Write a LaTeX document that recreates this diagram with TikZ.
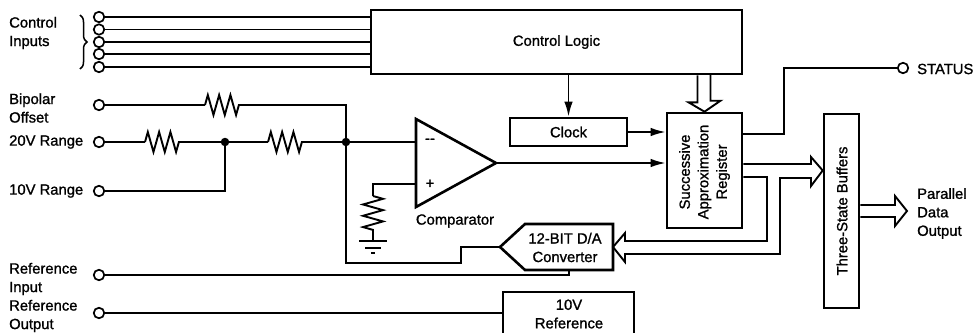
\documentclass[tikz,border=0pt]{standalone}
\usepackage{fontspec}
\newfontfamily\lblfont[FakeBold=1.2]{Liberation Sans}
\usetikzlibrary{arrows.meta,calc,decorations.pathmorphing,decorations.pathreplacing}
\tikzset{
  wire/.style={line width=1.9pt},
  boxed/.style={draw, line width=2.6pt, align=center, inner sep=0pt, font=\lblfont\fontsize{14.8}{18.5}\selectfont},
  term/.style={draw, circle, fill=white, line width=1.7pt, minimum size=10.5pt, inner sep=0pt},
  lbl/.style={anchor=west, inner sep=0pt, font=\lblfont\fontsize{14.8}{18.5}\selectfont, align=left},
  txt/.style={inner sep=0pt, font=\lblfont\fontsize{14.8}{18.5}\selectfont, align=center},
  res/.style={wire, decorate, decoration={zigzag, segment length=11.3pt, amplitude=10pt}},
  dot/.style={circle, fill=black, minimum size=8.5pt, inner sep=0pt},
  tip/.style={-{Latex[length=15pt,width=8.5pt]}}
}
\begin{document}
\begin{tikzpicture}[x=1pt,y=-1pt]
\useasboundingbox (0,0) rectangle (979,332);
% blocks
\node[boxed, minimum width=371pt, minimum height=64pt] (ctrl) at (556.5,42) {Control Logic};
\node[boxed, minimum width=117pt, minimum height=28pt] (clock) at (568.5,132) {Clock};
\node[boxed, minimum width=75pt, minimum height=115pt] (sar) at (704.5,170.5) {};
\node[txt, rotate=90] (sartxt) at (704.5,172) {Successive\\Approximation\\Register};
\node[boxed, minimum width=35pt, minimum height=194pt] (tsb) at (841.5,211) {};
\node[txt, rotate=90] (tsbtxt) at (842,211) {Three-State Buffers};
\node[boxed, minimum width=131pt, minimum height=44pt] (vref) at (568.5,314) {};
\node[txt] (vreftxt) at (569,314) {10V\\Reference};
\node[txt] (dactxt) at (565,247.5) {12-BIT D/A\\Converter};
\coordinate (dacout) at (500,247);
\coordinate (dacin) at (613,247);
\draw[wire, line width=2.6pt] (dacout) -- (525,224) -- (613,224) -- (613,270) -- (525,270) -- cycle;
% comparator
\coordinate (cmpout) at (496,163);
\coordinate (cmpm) at (416,142);
\coordinate (cmpp) at (416,184);
\draw[wire, line width=2.6pt] (416,119) -- (cmpout) -- (416,207) -- cycle;
\node[txt] (minus) at (430,141) {--};
\node[txt] (plus) at (430,184) {+};
\node[txt] (cmptxt) at (455,221) {Comparator};
% control inputs
\foreach \y [count=\i] in {17,29.5,42,54,67}{
  \node[term] (c\i) at (99,\y) {};
  \draw[wire] (c\i) -- (c\i -| ctrl.west);
}
\draw[line width=1.5pt, decorate, decoration={brace, amplitude=7pt}] (80,15) -- (80,69);
\node[lbl] (ctrllbl) at (9,33) {Control\\Inputs};
% analog inputs
\node[term] (bip) at (99,105) {};
\node[term] (r20) at (99,142) {};
\node[term] (r10) at (99,191) {};
\node[term] (refi) at (99,275) {};
\node[term] (refo) at (99,313) {};
\node[lbl] (biplbl) at (9,108) {Bipolar\\Offset};
\node[lbl] (r20lbl) at (9,142) {20V Range};
\node[lbl] (r10lbl) at (9,191) {10V Range};
\node[lbl] (refilbl) at (9,279) {Reference\\Input};
\node[lbl] (refolbl) at (9,316) {Reference\\Output};
\node[dot] (j1) at (225,142) {};
\node[dot] (j2) at (346,142) {};
% resistors
\coordinate (ra1) at (205,105);
\coordinate (ra2) at (239,105);
\coordinate (rb1) at (145,142);
\coordinate (rb2) at (179,142);
\coordinate (rc1) at (268,142);
\coordinate (rc2) at (302,142);
\coordinate (rd1) at (373,196);
\coordinate (rd2) at (373,230);
\draw[wire] (bip) -- (ra1);
\draw[res] (ra1) -- (ra2);
\draw[wire] (ra2) -| (j2);
\draw[wire] (r20) -- (rb1);
\draw[res] (rb1) -- (rb2);
\draw[wire] (rb2) -- (j1);
\draw[wire] (j1) -- (rc1);
\draw[res] (rc1) -- (rc2);
\draw[wire] (rc2) -- (j2);
\draw[wire] (j2) -- (cmpm);
\draw[wire] (r10) -| (j1);
\draw[wire] (j2) |- (461,263) |- (dacout);
% ground
\coordinate (gnd) at (373,241);
\draw[wire] (cmpp) -| (rd1);
\draw[res] (rd1) -- (rd2);
\draw[wire] (rd2) -- (gnd);
\draw[wire] (359,241) -- (387,241);
\draw[wire] (365,248) -- (381,248);
\draw[wire] (371,253) -- (375,253);
% reference lines
\draw[wire] (refi) -- (569,275) -- (569,270);
\draw[wire] (refo) -- (vref.west |- refo);
% digital part
\draw[wire, tip] (clock.north |- ctrl.south) -- (clock.north);
\draw[wire, tip] (clock.east) -- (clock.east -| sar.west);
\draw[wire, tip] (cmpout) -- (cmpout -| sar.west);
\node[term] (stat) at (903,68) {};
\node[lbl] (statlbl) at (917,69) {STATUS};
\draw[wire] ([yshift=36.5pt]sar.east) -| (784,68) -- (stat);
\draw[wire] ([xshift=-7pt]sar.north |- ctrl.south) -- ++(0,27) -- ++(-9,0) -- (sar.north) -- ++(16,-11) -- ++(-10,0) -- ++(0,-27);
\draw[wire] ([yshift=6.5pt]sar.east) -- (811,164) -- (811,157) -- (tsb.west |- sar.east) -- (811,186) -- (811,178) -- (780,178) -- (780,254) -- (625,254) -- (625,262) -- (dacin) -- (625,233) -- (625,241) -- (767,241) -- (767,177) -- ([yshift=-6.5pt]sar.east);
% output
\coordinate (outtip) at (907,211);
\draw[wire] ([yshift=6pt]tsb.east) -- (895,205) -- (895,196) -- (outtip) -- (895,226) -- (895,217) -- ([yshift=-6pt]tsb.east);
\node[lbl] (outlbl) at (917,213.5) {Parallel\\Data\\Output};
\end{tikzpicture}
\end{document}
